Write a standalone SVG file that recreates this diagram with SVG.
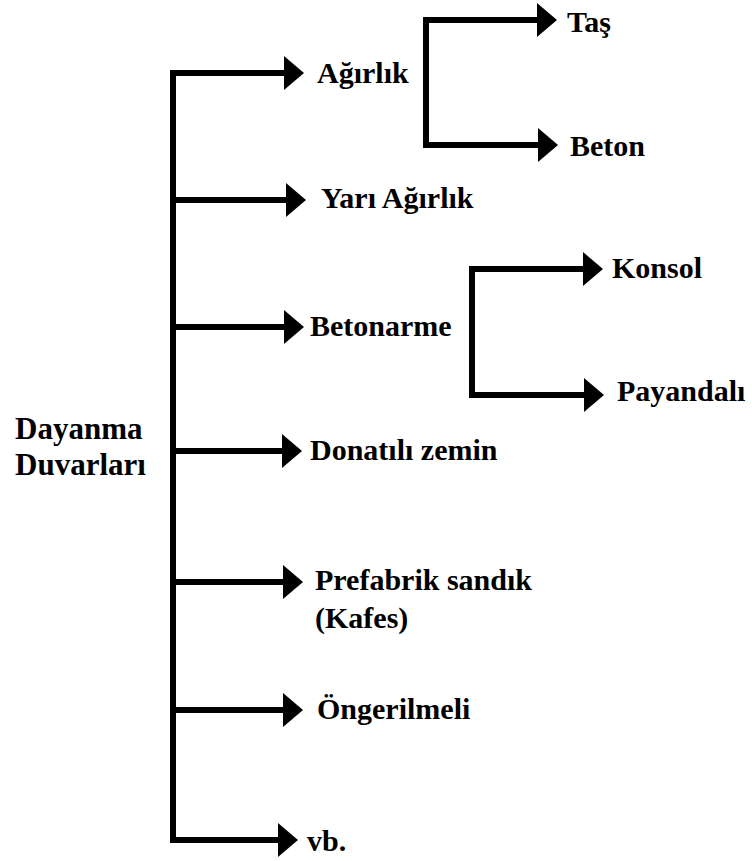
<svg xmlns="http://www.w3.org/2000/svg" width="752" height="861" viewBox="0 0 752 861">
<style>
.c{fill:none;stroke:#000;stroke-width:6;stroke-linejoin:miter;stroke-linecap:butt;marker-end:url(#ah)}
.p{fill:none;stroke:#000;stroke-width:6;stroke-linejoin:miter;stroke-linecap:butt}
text{font-family:"Liberation Serif","Times New Roman",serif;font-weight:bold;font-size:30px;fill:#000}
.big{font-size:31px}
</style>
<defs>
<marker id="ah" markerUnits="userSpaceOnUse" markerWidth="20" markerHeight="34" refX="2" refY="17" orient="auto" viewBox="0 0 20 34">
<path d="M0,0 L20,17 L0,34 Z" fill="#000"/>
</marker>
</defs>
<rect width="752" height="861" fill="#fff"/>
<g id="connectors">
<path class="p" d="M173,73 V840 H281"/>
<path class="c" d="M170,73 H286"/>
<path class="c" d="M173,200 H288"/>
<path class="c" d="M173,327 H286"/>
<path class="c" d="M173,451 H284"/>
<path class="c" d="M173,582 H285"/>
<path class="c" d="M173,710 H285"/>
<path class="c" d="M275,840 H280"/>
<path class="c" d="M423,20 H539"/>
<path class="c" d="M426,20 V145 H540"/>
<path class="c" d="M469,269 H585"/>
<path class="c" d="M472,269 V395 H586"/>
</g>
<g id="node-root"><text class="big" x="15" y="439">Dayanma</text><text class="big" x="15" y="475">Duvarları</text></g>
<g id="node-agirlik"><text x="317" y="83">Ağırlık</text></g>
<g id="node-tas"><text x="567" y="32">Taş</text></g>
<g id="node-beton"><text x="570" y="156">Beton</text></g>
<g id="node-yari"><text x="321" y="208">Yarı Ağırlık</text></g>
<g id="node-betonarme"><text x="310" y="336">Betonarme</text></g>
<g id="node-konsol"><text x="612" y="278">Konsol</text></g>
<g id="node-payandali"><text x="617" y="401">Payandalı</text></g>
<g id="node-donatili"><text x="310" y="460">Donatılı zemin</text></g>
<g id="node-prefabrik"><text x="315" y="590">Prefabrik sandık</text><text x="315" y="628">(Kafes)</text></g>
<g id="node-ongerilmeli"><text x="317" y="719">Öngerilmeli</text></g>
<g id="node-vb"><text x="307" y="851">vb.</text></g>
</svg>
